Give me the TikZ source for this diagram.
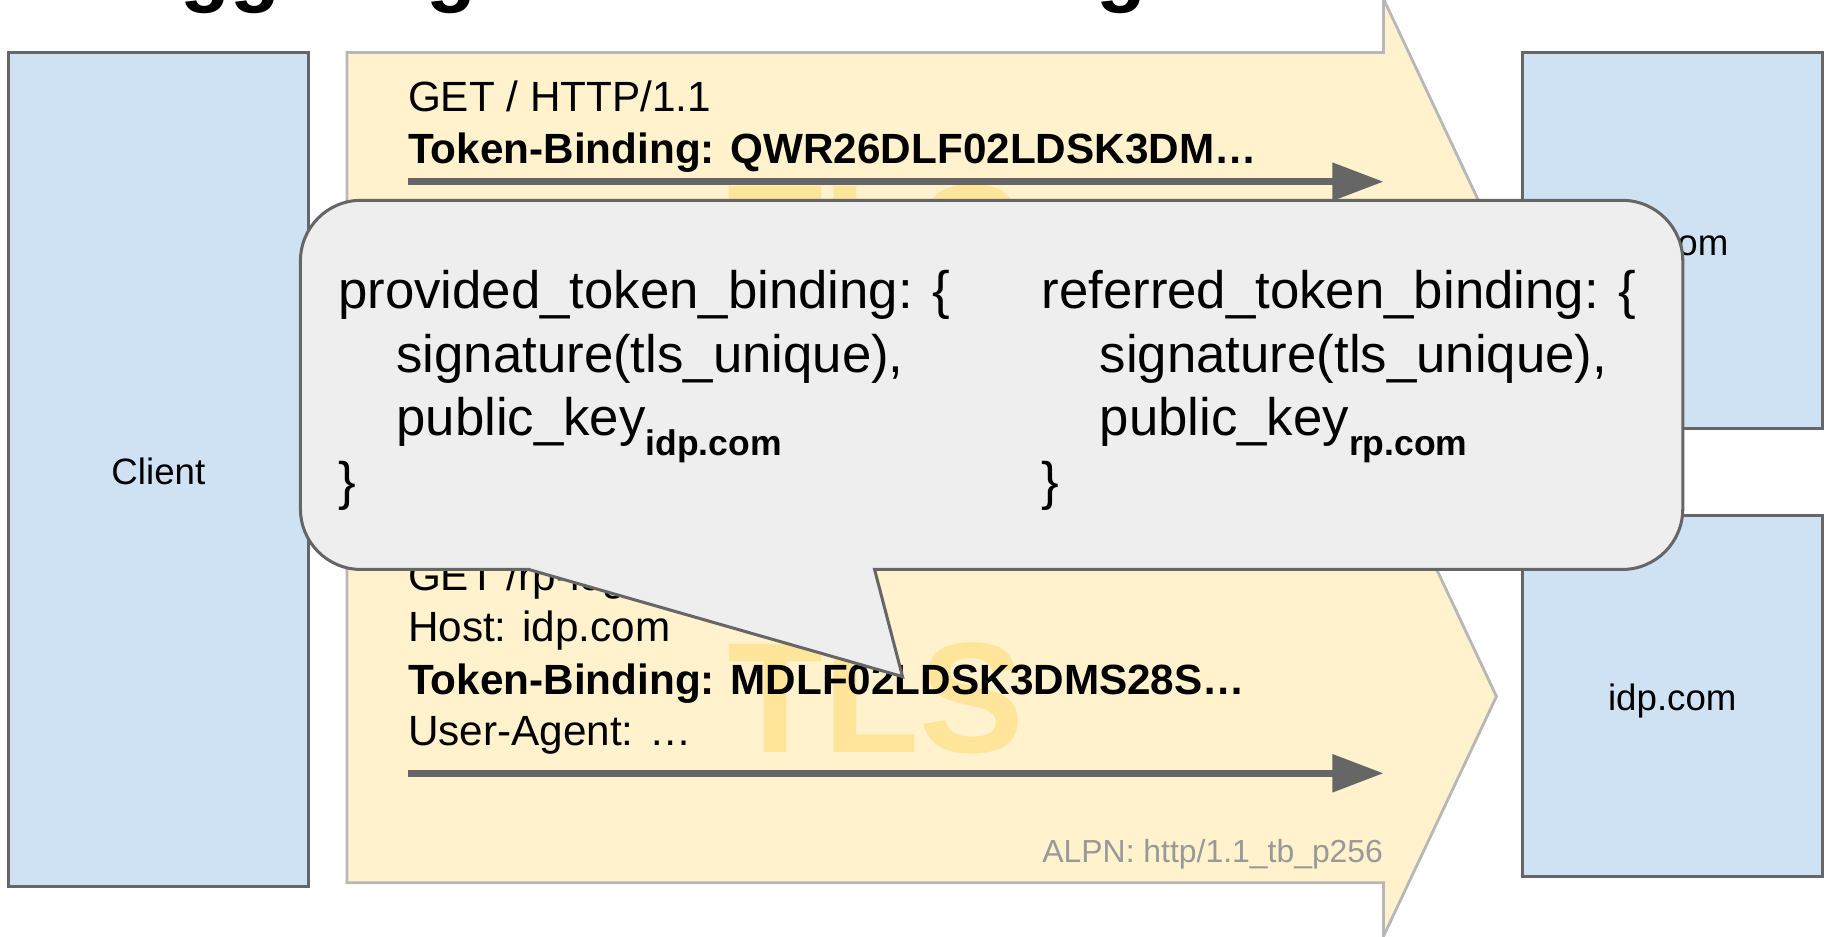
\documentclass[tikz,border=0pt]{standalone}
\usepackage{fontspec}
\setmainfont{Liberation Sans}
\usetikzlibrary{arrows.meta}

\definecolor{boxblue}{HTML}{CFE2F3}
\definecolor{edgegray}{HTML}{666666}
\definecolor{tlsfill}{HTML}{FFF2CC}
\definecolor{tlsedge}{HTML}{B7B7B7}
\definecolor{tlsmark}{HTML}{FFE599}
\definecolor{bubblefill}{HTML}{EEEEEE}
\definecolor{alpngray}{HTML}{999999}

\newcommand{\setsz}[1]{\fontsize{#1}{#1}\selectfont}

\begin{document}
\begin{tikzpicture}[x=0.5pt,y=-0.5pt,
  party/.style={draw=edgegray, fill=boxblue, line width=1.3pt, inner sep=0pt},
  partylabel/.style={font=\setsz{15.75pt}, inner sep=0pt, anchor=base},
  tlsblock/.style={draw=tlsedge, fill=tlsfill, line width=1.2pt, line join=miter},
  watermark/.style={text=tlsmark, font=\setsz{67.5pt}\bfseries, inner sep=0pt, anchor=base},
  hdr/.style={font=\setsz{18.15pt}, inner sep=0pt, anchor=base west},
  hdrbold/.style={font=\setsz{18.15pt}\bfseries, inner sep=0pt, anchor=base west},
  msgline/.style={draw=edgegray, line width=3pt, -{Triangle[length=22pt,width=15.75pt]}},
  alpn/.style={text=alpngray, font=\setsz{13.7pt}, inner sep=0pt, anchor=base east},
  bubble/.style={draw=edgegray, fill=bubblefill, line width=1.3pt, line join=miter},
  code/.style={font=\setsz{22.65pt}, inner sep=0pt, anchor=base west},
  titlefrag/.style={font=\setsz{35pt}\bfseries, inner sep=0pt, anchor=base west}
]
\useasboundingbox (0,0) rectangle (1568,804);
\clip (0,0) rectangle (1568,804);

% heading, mostly above the top edge
\node[titlefrag] (ttla) at (155,-3) {gg};
\node[titlefrag] (ttlb) at (366,-3) {g};
\node[titlefrag] (ttlc) at (941,-3) {g};

% parties
\node[party, minimum width=129pt, minimum height=358pt] (client) at (136,403) {};
\node[party, minimum width=129pt, minimum height=161.5pt] (rp) at (1436,206.5) {};
\node[party, minimum width=129pt, minimum height=155pt] (idp) at (1436,598) {};
\node[partylabel] (clientlbl) at (136,416) {Client};
\node[partylabel] (rplbl) at (1436,219.5) {rp.com};
\node[partylabel] (idplbl) at (1436,610) {idp.com};

% TLS channels
\draw[tlsblock] (298,45) -- (1188,45) -- (1188,-1) -- (1285,205) -- (1188,411)
  -- (1188,365) -- (298,365) -- cycle;
\draw[tlsblock] (298,438) -- (1188,438) -- (1188,392) -- (1285,598) -- (1188,804)
  -- (1188,758) -- (298,758) -- cycle;

\node[watermark] (tlsa) at (752,253) {TLS};
\node[watermark] (tlsb) at (752,646) {TLS};

% request to rp.com
\node[hdr] (ra) at (350,96) {GET / HTTP/1.1};
\node[hdrbold] (rb) at (350,140.5) {Token-Binding: QWR26DLF02LDSK3DM…};
\coordinate (ras) at (350,156);
\coordinate (rae) at (1188,156);
\draw[msgline] (ras) -- (rae);

% request to idp.com
\node[hdr] (ia) at (350,507) {GET /rp-login HTTP/1.1};
\node[hdr] (ib) at (350,551) {Host: idp.com};
\node[hdrbold] (ic) at (350,596) {Token-Binding: MDLF02LDSK3DMS28S…};
\node[hdr] (id) at (350,640) {User-Agent: …};
\coordinate (ias) at (350,664);
\coordinate (iae) at (1188,664);
\draw[msgline] (ias) -- (iae);
\node[alpn] (alpnb) at (1188,741) {ALPN: http/1.1\_tb\_p256};

% speech bubble
\draw[bubble] (310,172) -- (1393,172) arc[start angle=90,end angle=0,radius=26pt]
  -- (1445,437) arc[start angle=0,end angle=-90,radius=26pt]
  -- (751,489) -- (775,581) -- (454,489)
  -- (310,489) arc[start angle=270,end angle=180,radius=26pt]
  -- (258,224) arc[start angle=180,end angle=90,radius=26pt] -- cycle;

\node[code] (pa) at (290,265) {provided\_token\_binding: \{};
\node[code] (pb) at (340,319.5) {signature(tls\_unique),};
\node[code] (pc) at (340,374) {public\_key\raisebox{-8.5pt}{\setsz{15.25pt}\bfseries idp.com}};
\node[code] (pd) at (290,428.5) {\}};

\node[code] (qa) at (894,265) {referred\_token\_binding: \{};
\node[code] (qb) at (944,319.5) {signature(tls\_unique),};
\node[code] (qc) at (944,374) {public\_key\raisebox{-8.5pt}{\setsz{15.25pt}\bfseries rp.com}};
\node[code] (qd) at (894,428.5) {\}};
\end{tikzpicture}
\end{document}
